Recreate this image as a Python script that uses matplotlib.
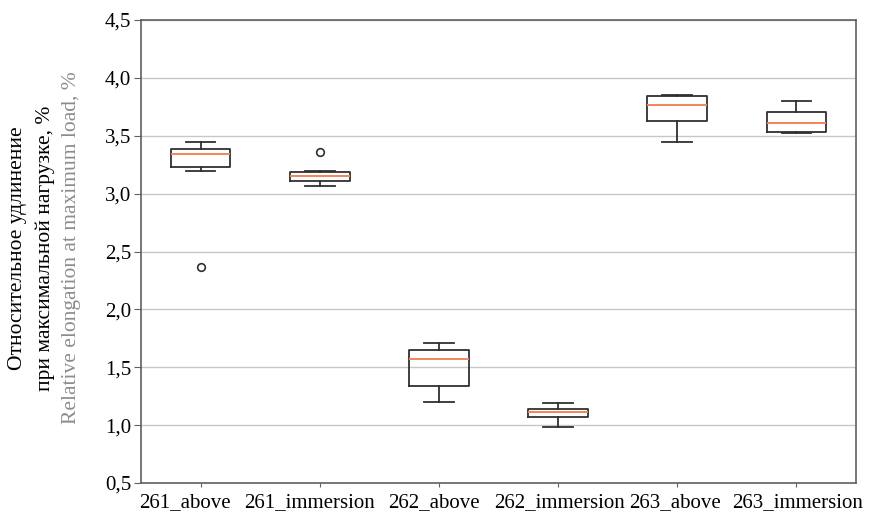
import matplotlib
matplotlib.use("Agg")
import matplotlib.pyplot as plt
import matplotlib.transforms as mtransforms
from matplotlib.ticker import FuncFormatter

labels = ["261_above", "261_immersion", "262_above", "262_immersion", "263_above", "263_immersion"]
whislo = [3.195, 3.064, 1.202, 0.988, 3.444, 3.524]
q1 = [3.227, 3.107, 1.334, 1.068, 3.626, 3.532]
med = [3.341, 3.152, 1.573, 1.117, 3.769, 3.606]
q3 = [3.384, 3.190, 1.651, 1.139, 3.840, 3.706]
whishi = [3.449, 3.198, 1.708, 1.188, 3.849, 3.801]
fliers = [[2.37], [3.361], [], [], [], []]

plt.rcParams['font.family'] = ['Liberation Serif', 'DejaVu Serif']

stats = []
for i in range(len(labels)):
    stats.append({
        "label": labels[i],
        "whislo": whislo[i], "q1": q1[i], "med": med[i],
        "q3": q3[i], "whishi": whishi[i], "fliers": fliers[i],
    })

fig = plt.figure(figsize=(8.74, 5.15), dpi=100)
ax = fig.add_axes([141 / 874, 1 - 483 / 515, (856 - 141) / 874, (483 - 20) / 515])

line_col = "#303030"
ax.bxp(stats, widths=0.5,
       boxprops=dict(color=line_col, linewidth=1.3),
       whiskerprops=dict(color=line_col, linewidth=1.3),
       capprops=dict(color=line_col, linewidth=1.3),
       medianprops=dict(color="#f4845a", linewidth=1.4),
       flierprops=dict(marker="o", markerfacecolor="none", markeredgecolor=line_col,
                       markersize=5.5, markeredgewidth=1.2))

ax.set_xlim(0.5, 6.5)
ax.set_ylim(0.5, 4.5)
ax.set_yticks([0.5, 1.0, 1.5, 2.0, 2.5, 3.0, 3.5, 4.0, 4.5])
ax.yaxis.set_major_formatter(FuncFormatter(lambda v, p: f"{v:.1f}".replace(".", ",")))
ax.grid(axis="y", color="#c8c8c8", linewidth=1.0)
ax.set_axisbelow(True)

for s in ax.spines.values():
    s.set_color("#606060")
    s.set_linewidth(1.2)
ax.tick_params(axis="y", length=5, color="#606060", labelsize=15, pad=2)
ax.tick_params(axis="x", length=3, color="#606060", labelsize=15, pad=4)

# в оригинале подписи по X немного сдвинуты относительно делений
shifts = [-16, -10, -5, 1, -2, 1]
for lab, dx in zip(ax.get_xticklabels(), shifts):
    lab.set_transform(lab.get_transform() +
                      mtransforms.ScaledTranslation(dx / 100, 0, fig.dpi_scale_trans))

# подпись оси Y в три строки
ymid = 1 - 248 / 515
fig.text(18 / 874, ymid, "Относительное удлинение", rotation=90, ha="center", va="center",
         fontsize=15.5, color="black")
fig.text(45 / 874, ymid, "при максимальной нагрузке, %", rotation=90, ha="center", va="center",
         fontsize=15.5, color="black")
fig.text(72 / 874, ymid, "Relative elongation at maximum load, %", rotation=90, ha="center",
         va="center", fontsize=15.5, color="#8c8c8c")

fig.savefig("out.png", dpi=100)
